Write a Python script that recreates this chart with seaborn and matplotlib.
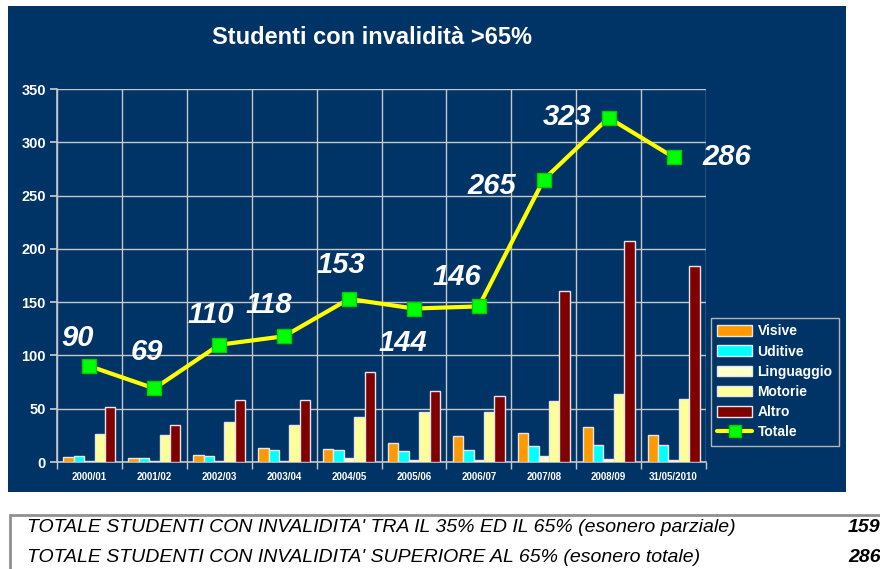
import matplotlib
matplotlib.use("Agg")
import matplotlib.pyplot as plt
from matplotlib import font_manager
from matplotlib.patches import Patch, Rectangle
from matplotlib.lines import Line2D
import numpy as np
import pandas as pd
import seaborn as sns

periodi = ["2000/01", "2001/02", "2002/03", "2003/04", "2004/05",
           "2005/06", "2006/07", "2007/08", "2008/09", "31/05/2010"]
visive = [5, 4, 7, 13, 12, 18, 24, 27, 33, 25]
uditive = [6, 4, 6, 11, 11, 10, 11, 15, 16, 16]
linguaggio = [1, 1, 1, 1, 4, 2, 2, 6, 3, 2]
motorie = [26, 25, 38, 35, 42, 47, 47, 57, 64, 59]
altro = [52, 35, 58, 58, 84, 67, 62, 160, 207, 184]
totale = [90, 69, 110, 118, 153, 144, 146, 265, 323, 286]

tipi = ["Visive", "Uditive", "Linguaggio", "Motorie", "Altro"]
colori = {"Visive": "#FF9900", "Uditive": "#00FFFF", "Linguaggio": "#FFFFCC",
          "Motorie": "#FFFF99", "Altro": "#800000"}

righe_tabella = ["TOTALE STUDENTI CON INVALIDITA' TRA IL 35% ED IL 65% (esonero parziale)",
                 "TOTALE STUDENTI CON INVALIDITA' SUPERIORE AL 65% (esonero totale)"]
valori_tabella = ["159", "286"]

# offset (pixel) of each total label from its marker
offset_etichette = [(-12, 28), (-7, 36), (-8, 30), (-15, 31), (-8, 34),
                    (-11, -34), (-22, 29), (-52, -6), (-42, 1), (53, 0)]

NAVY = "#003366"
W, H = 880, 569

df = pd.DataFrame({
    "Periodo": periodi * len(tipi),
    "Tipo": [t for t in tipi for _ in periodi],
    "Studenti": visive + uditive + linguaggio + motorie + altro,
})

sns.set_theme(style="white")
plt.rcParams["font.family"] = ["Liberation Sans", "DejaVu Sans"]

try:
    font_manager.findfont("Liberation Sans Narrow", fallback_to_default=False)
    narrow = "Liberation Sans Narrow"
except ValueError:
    narrow = "Liberation Sans"

fig = plt.figure(figsize=(W / 100, H / 100), dpi=100, facecolor="white")
fig.patches.append(Rectangle((8 / W, 1 - 492 / H), 838 / W, 486 / H,
                             transform=fig.transFigure, facecolor=NAVY,
                             edgecolor="none", zorder=-2))

ax = fig.add_axes([57 / W, 107 / H, 649 / W, 373 / H])
ax.set_facecolor(NAVY)

sns.barplot(data=df, x="Periodo", y="Studenti", hue="Tipo", hue_order=tipi,
            palette=colori, saturation=1, width=0.8, edgecolor="#E6E6E6",
            linewidth=1, legend=False, ax=ax, zorder=3)

pos = np.arange(len(periodi))
ax.plot(pos, totale, color="#FFFF00", lw=3, marker="s", ms=10,
        mfc="#00FF00", mec="#00CC00", zorder=5)

for x, v, off in zip(pos, totale, offset_etichette):
    ax.annotate(str(v), (x, v), xytext=off, textcoords="offset pixels",
                ha="center", va="center", fontsize=21, fontweight="bold",
                fontstyle="italic", color="white", zorder=6,
                annotation_clip=False)

ax.set_xlim(-0.5, len(periodi) - 0.5)
ax.set_ylim(0, 350)
ax.set_yticks(np.arange(0, 351, 50))
ax.set_xticks(np.arange(-0.5, len(periodi)), minor=True)
ax.set_axisbelow(True)
ax.yaxis.grid(True, color="#C8C8C8", lw=1)
ax.xaxis.grid(True, which="minor", color="#C8C8C8", lw=1)
ax.xaxis.grid(False, which="major")
ax.set_xlabel("")
ax.set_ylabel("")

ax.tick_params(axis="x", which="major", length=0, pad=7, labelsize=7,
               labelcolor="white")
ax.tick_params(axis="x", which="minor", length=5, color="#C8C8C8",
               direction="out", bottom=True)
ax.tick_params(axis="y", length=5, color="#C8C8C8", direction="out", left=True,
               pad=3, labelsize=10.5, labelcolor="white")
for lab in ax.get_xticklabels() + ax.get_yticklabels():
    lab.set_fontweight("bold")

for side in ["top", "right"]:
    ax.spines[side].set_visible(False)
for side in ["left", "bottom"]:
    ax.spines[side].set_color("#C8C8C8")
    ax.spines[side].set_linewidth(1.2)

handles = [Patch(facecolor=colori[t], edgecolor="#E6E6E6", label=t) for t in tipi]
handles.append(Line2D([], [], color="#FFFF00", lw=3, marker="s", ms=9,
                      mfc="#00FF00", mec="#00CC00", label="Totale"))
leg = ax.legend(handles=handles, loc="upper left",
                bbox_to_anchor=(711 / W, 1 - 318 / H),
                bbox_transform=fig.transFigure, borderaxespad=0,
                frameon=True, fancybox=False,
                facecolor=NAVY, edgecolor="#B4B4B4", framealpha=1,
                handlelength=2.5, handleheight=0.8, labelspacing=0.45,
                handletextpad=0.4, borderpad=0.45,
                prop={"weight": "bold", "size": 10})
for t in leg.get_texts():
    t.set_color("white")

fig.text(372 / W, 1 - 38 / H, "Studenti con invalidità >65%", ha="center",
         va="center", fontsize=17, fontweight="bold", color="white")

# tabella riassuntiva in basso
fig.patches.append(Rectangle((10 / W, 1 - 600 / H), 900 / W, 85 / H,
                             transform=fig.transFigure, facecolor="white",
                             edgecolor="#909090", lw=2, zorder=-1))
for i, (riga, val) in enumerate(zip(righe_tabella, valori_tabella)):
    y = 1 - (528 + 29 * i) / H
    fig.text(27 / W, y, riga, ha="left", va="center", fontsize=14,
             fontstyle="italic", family=narrow, color="black")
    fig.text(848 / W, y, val, ha="left", va="center", fontsize=14,
             fontstyle="italic", fontweight="bold", family=narrow, color="black")

fig.savefig("out.png", dpi=100, facecolor="white")
